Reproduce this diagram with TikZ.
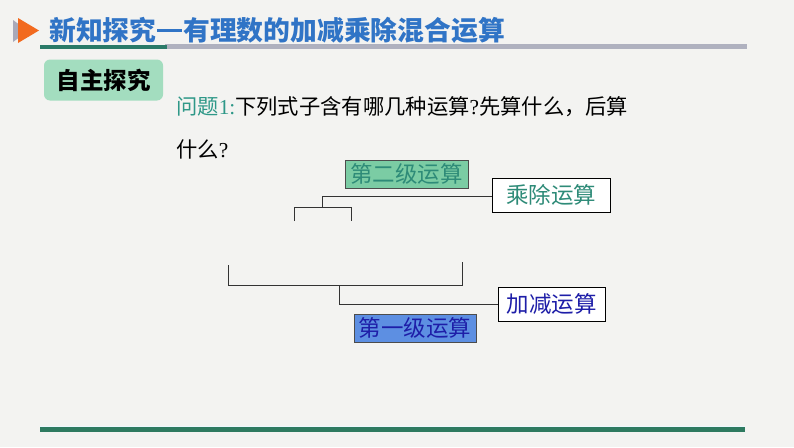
\documentclass[tikz,border=0pt]{standalone}
\usepackage{fontspec}
\newfontfamily\cjk{Noto Sans CJK SC}
\newfontfamily\serifnum{Liberation Serif}
\definecolor{bgc}{HTML}{F3F3F1}
\definecolor{titleblue}{HTML}{3074C6}
\definecolor{orangec}{HTML}{F26A1F}
\definecolor{grayt}{HTML}{A9A9B9}
\definecolor{tealline}{HTML}{2A7A68}
\definecolor{grayline}{HTML}{AFB1BF}
\definecolor{greenbox}{HTML}{A3DDBF}
\definecolor{qteal}{HTML}{2E9888}
\definecolor{midgreen}{HTML}{7BCCA4}
\definecolor{tealtext}{HTML}{2E8B78}
\definecolor{darkblue}{HTML}{1E1EA8}
\definecolor{bluefill}{HTML}{5D8FE2}
\definecolor{bottomline}{HTML}{2E7A60}
\tikzset{
  lvlbox/.style={draw=black!70, line width=0.8pt, inner sep=0pt, font=\cjk\fontsize{22.5}{22.5}\selectfont},
  opbox/.style={draw=black, fill=white, line width=0.9pt, inner sep=0pt, font=\cjk\fontsize{22.5}{22.5}\selectfont},
  conn/.style={draw=black!80, line width=1pt},
}
\begin{document}
\begin{tikzpicture}[x=1pt,y=-1pt]
\useasboundingbox (0,0) rectangle (794,447);
\fill[bgc] (0,0) rectangle (794,447);
% header marker
\fill[grayt] (13,20) -- (13,42) -- (28,31) -- cycle;
\fill[orangec] (18,18) -- (18,43) -- (39,30.5) -- cycle;
% title
\node[anchor=west, inner sep=0pt, text=titleblue, font=\cjk\bfseries\fontsize{26.8}{26.8}\selectfont] (title) at (49,30) {新知探究\hspace{0.04em}\rule[0.3em]{0.92em}{0.11em}\hspace{0.04em}有理数的加减乘除混合运算};
\fill[grayline] (165,43.5) rectangle (747,48.5);
\fill[tealline] (40,45) rectangle (167,49);
% green label
\node[draw=none, fill=greenbox, rounded corners=6pt, minimum width=119pt, minimum height=41pt, inner sep=0pt, font=\cjk\bfseries\fontsize{23.5}{23.5}\selectfont] (zz) at (103.5,80) {自主探究};
% question
\node[anchor=west, inner sep=0pt, font=\cjk\fontsize{21.3}{21.3}\selectfont] (q1) at (176,107) {\textcolor{qteal}{问题{\serifnum 1:}}下列式子含有哪几种运算{\serifnum ?}先算什么，后算};
\node[anchor=west, inner sep=0pt, font=\cjk\fontsize{21.3}{21.3}\selectfont] (q2) at (176,149) {什么{\serifnum ?}};
% level boxes
\node[lvlbox, fill=midgreen, text=tealtext, minimum width=123pt, minimum height=28pt] (l2) at (406.5,174) {第二级运算};
\node[opbox, text=tealtext, minimum width=118pt, minimum height=34pt] (cc) at (551,195) {乘除运算};
\node[opbox, text=darkblue, minimum width=107pt, minimum height=34pt] (jj) at (551.5,304) {加减运算};
\node[lvlbox, fill=bluefill, text=darkblue, minimum width=122pt, minimum height=28pt] (l1) at (415,328) {第一级运算};
% upper bracket
\coordinate (u1) at (322,196.5);
\coordinate (u2) at (322,207);
\coordinate (ua) at (294,221);
\coordinate (ub) at (351,221);
\draw[conn] (cc.west |- u1) -- (u1) -- (u2);
\draw[conn] (ua) -- (ua |- u2) -- (ub |- u2) -- (ub);
% lower bracket
\coordinate (la) at (228,265);
\coordinate (lb) at (462,262);
\coordinate (lm) at (339,285);
\coordinate (lj) at (339,304);
\draw[conn] (la) -- (la |- lm) -- (lb |- lm) -- (lb);
\draw[conn] (lm) -- (lj) -- (jj.west |- lj);
% bottom line
\fill[cyan!8] (40,425.5) rectangle (745,427.5);
\fill[bottomline] (40,427) rectangle (745,432);
\end{tikzpicture}
\end{document}
